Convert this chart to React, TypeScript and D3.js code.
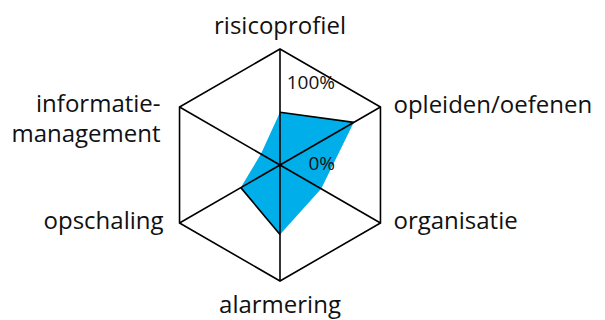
import React, { useEffect, useRef } from 'react';
import * as d3 from 'd3';

// axes, clockwise from the top
const axes = ['risicoprofiel', 'opleiden/oefenen', 'organisatie', 'alarmering', 'opschaling', 'informatie-\nmanagement'];
// score per axis, 0..1
const scores = [0.455, 0.735, 0.41, 0.6, 0.39, 0.19];
const scaleLabels = ['100%', '0%'];

const W = 605;
const H = 320;

const RadarChart = () => {
  const ref = useRef<SVGSVGElement | null>(null);

  useEffect(() => {
    const svg = d3.select(ref.current);
    svg.selectAll('*').remove();

    const cx = 280;
    const cy = 165;
    const r = d3.scaleLinear().domain([0, 1]).range([0, 116]);
    const angle = d3.scaleLinear().domain([0, axes.length]).range([0, 2 * Math.PI]);

    const pt = (i: number, v: number): [number, number] => [
      cx + r(v) * Math.sin(angle(i)),
      cy - r(v) * Math.cos(angle(i)),
    ];

    const g = svg.append('g');

    // data area
    const area = scores.map((v, i) => pt(i, v));
    g.append('path')
      .attr('d', d3.line().curve(d3.curveLinearClosed)(area))
      .attr('fill', '#00aee9')
      .attr('stroke', 'none');

    // dark edges on the straight sides of the area
    [[0, 1], [4, 3]].forEach(([a, b]) => {
      g.append('line')
        .attr('x1', area[a][0]).attr('y1', area[a][1])
        .attr('x2', area[b][0]).attr('y2', area[b][1])
        .attr('stroke', '#000')
        .attr('stroke-width', 1.6);
    });

    // spokes
    axes.forEach((_, i) => {
      const [x, y] = pt(i, 1);
      g.append('line')
        .attr('x1', cx).attr('y1', cy)
        .attr('x2', x).attr('y2', y)
        .attr('stroke', '#000')
        .attr('stroke-width', 1.6);
    });

    // outer hexagon
    g.append('path')
      .attr('d', d3.line().curve(d3.curveLinearClosed)(axes.map((_, i) => pt(i, 1))))
      .attr('fill', 'none')
      .attr('stroke', '#000')
      .attr('stroke-width', 1.6)
      .attr('stroke-linejoin', 'miter');

    // scale labels
    g.append('text')
      .attr('x', 335).attr('y', 89)
      .attr('text-anchor', 'end')
      .attr('font-size', 19)
      .text(scaleLabels[0]);
    g.append('text')
      .attr('x', 335).attr('y', 170)
      .attr('text-anchor', 'end')
      .attr('font-size', 19)
      .text(scaleLabels[1]);

    // axis labels
    axes.forEach((label, i) => {
      const [x, y] = pt(i, 1);
      const s = Math.sin(angle(i));
      const lines = label.split('\n');
      let tx = x;
      let ty = y + 6;
      let anchor = 'middle';
      if (Math.abs(s) < 0.01) {
        ty = y < cy ? y - 15 : y + 32;
      } else if (s > 0) {
        tx = x + 13;
        anchor = 'start';
      } else {
        tx = x - 16;
        anchor = 'end';
        if (lines.length > 1) {
          tx = x - 19;
          ty = y + 5;
        }
      }
      const t = g.append('text')
        .attr('x', tx)
        .attr('y', ty)
        .attr('text-anchor', anchor)
        .attr('font-size', 24);
      lines.forEach((ln, k) => {
        t.append('tspan')
          .attr('x', tx)
          .attr('dy', k === 0 ? 0 : 30)
          .text(ln);
      });
    });
  }, []);

  return (
    <svg
      ref={ref}
      width={W}
      height={H}
      style={{ fontFamily: '"Open Sans", sans-serif', fill: '#111', display: 'block' }}
    />
  );
};

export default function App() {
  return (
    <div style={{ position: 'absolute', left: 0, top: 0, width: W, height: H, background: '#fff' }}>
      <RadarChart />
    </div>
  );
}
